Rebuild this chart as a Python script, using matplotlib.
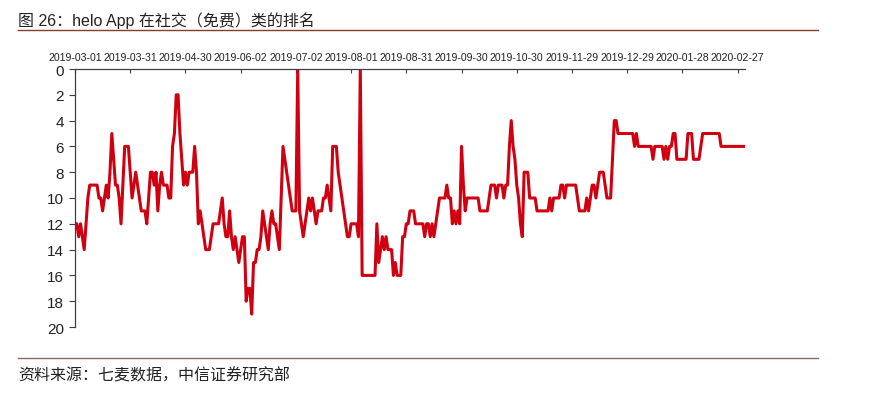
import matplotlib
matplotlib.use("Agg")
import matplotlib.pyplot as plt
from matplotlib.lines import Line2D

plt.rcParams['font.family'] = ['Liberation Sans', 'Noto Sans CJK SC', 'DejaVu Sans']

# daily rank of helo in the social (free) category, one value per data day
ranks = [
    12, 12, 13, 12, 13, 14, 12, 10, 9, 9,
    9, 9, 9, 10, 10, 11, 10, 9, 10, 8,
    5, 7, 9, 9, 10, 12, 9, 6, 6, 6,
    8, 10, 9, 8, 9, 10, 11, 11, 11, 12,
    10, 8, 8, 9, 8, 11, 9, 8, 9, 9,
    9, 10, 10, 6, 5, 2, 2, 5, 7, 9,
    8, 9, 8, 8, 8, 6, 8, 12, 11, 12,
    13, 14, 14, 14, 13, 12, 12, 12, 12, 11,
    10, 12, 13, 13, 11, 13, 14, 13, 14, 15,
    14, 13, 13, 18, 17, 17, 19, 15, 15, 14,
    14, 13, 11, 12, 13, 14, 12, 11, 12, 12,
    13, 14, 10, 6, 7, 8, 9, 10, 11, 11,
    11, 0, 11, 12, 13, 12, 11, 10, 11, 10,
    11, 12, 11, 11, 11, 10, 10, 9, 10, 11,
    6, 6, 6, 8, 9, 10, 11, 12, 13, 13,
    12, 12, 12, 12, 13, 0, 16, 16, 16, 16,
    16, 16, 16, 16, 12, 15, 14, 13, 14, 13,
    14, 14, 14, 16, 15, 16, 16, 16, 13, 13,
    12, 12, 11, 11, 11, 12, 12, 12, 12, 12,
    13, 12, 12, 13, 12, 13, 12, 11, 10, 10,
    10, 10, 9, 10, 10, 12, 11, 12, 11, 12,
    6, 9, 11, 10, 10, 10, 10, 10, 10, 10,
    11, 11, 11, 11, 11, 10, 9, 9, 9, 10,
    9, 9, 9, 10, 9, 9, 6, 4, 6, 7,
    9, 10, 12, 13, 8, 8, 8, 10, 10, 10,
    10, 11, 11, 11, 11, 11, 11, 11, 10, 11,
    10, 10, 10, 10, 9, 9, 10, 9, 9, 9,
    9, 9, 9, 10, 11, 11, 11, 11, 10, 11,
    10, 9, 9, 10, 9, 8, 8, 8, 9, 10,
    10, 10, 7, 4, 4, 5, 5, 5, 5, 5,
    5, 5, 5, 5, 6, 5, 6, 6, 6, 6,
    6, 6, 6, 6, 7, 6, 6, 6, 6, 6,
    7, 6, 7, 6, 6, 5, 5, 7, 7, 7,
    7, 7, 7, 5, 5, 5, 7, 7, 7, 7,
    6, 5, 5, 5, 5, 5, 5, 5, 5, 5,
    5, 6, 6, 6, 6, 6, 6, 6, 6, 6,
    6, 6, 6, 6, 6,
]

date_labels = [
    '2019-03-01', '2019-03-31', '2019-04-30', '2019-06-02', '2019-07-02',
    '2019-08-01', '2019-08-31', '2019-09-30', '2019-10-30', '2019-11-29',
    '2019-12-29', '2020-01-28', '2020-02-27',
]
label_step = 30

title = '图 26：helo App 在社交（免费）类的排名'
source = '资料来源：七麦数据，中信证券研究部'

W, H = 878, 406
fig = plt.figure(figsize=(W / 100, H / 100), dpi=100)
ax = fig.add_axes([75 / W, 1 - 328 / H, (745 - 75) / W, (328 - 70) / H])

x = list(range(len(ranks)))
ax.plot(x, ranks, color='#D00010', lw=2.2, solid_joinstyle='round')

ax.set_xlim(0, len(ranks) - 1)
ax.set_ylim(20, 0)
ax.set_yticks(range(0, 21, 2))
ax.set_xticks(range(0, label_step * len(date_labels), label_step))
ax.set_xticklabels(date_labels)

ax.xaxis.tick_top()
ax.tick_params(axis='x', direction='in', length=3, pad=5, labelsize=7.6,
               color='#404040', labelcolor='#222222')
ax.tick_params(axis='y', direction='out', length=4, pad=4, labelsize=11,
               color='#404040', labelcolor='#222222')
for side in ['bottom', 'right']:
    ax.spines[side].set_visible(False)
for side in ['top', 'left']:
    ax.spines[side].set_color('#404040')
    ax.spines[side].set_linewidth(0.9)

fig.text(18 / W, 1 - 21 / H, title, fontsize=11.5, color='#222222',
         va='center', ha='left')
fig.add_artist(Line2D([18 / W, 818 / W], [1 - 31 / H] * 2,
                      color='#8a3b2c', lw=1.0))
fig.add_artist(Line2D([18 / W, 818 / W], [1 - 359 / H] * 2,
                      color='#8a6a60', lw=1.0))
fig.text(18 / W, 1 - 376 / H, source, fontsize=11.5, color='#222222',
         va='center', ha='left')

fig.savefig('out.png', dpi=100, facecolor='white')
